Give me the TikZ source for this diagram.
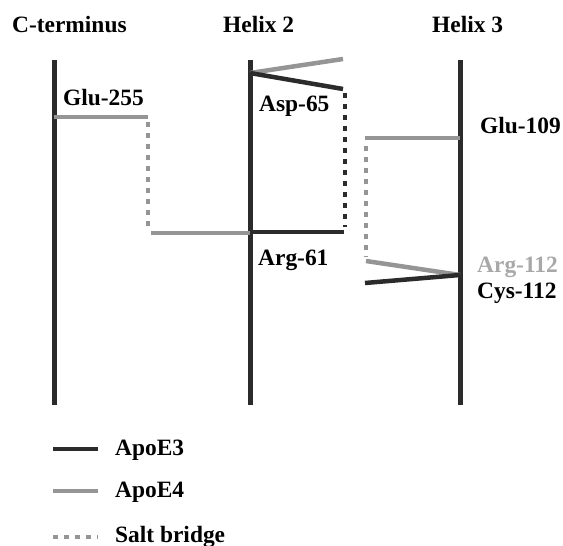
\documentclass[tikz,border=0pt]{standalone}
\usepackage{fontspec}
\setmainfont{Liberation Serif}
\definecolor{eThree}{HTML}{2B2B2B}
\definecolor{eFour}{HTML}{959595}
\definecolor{argGray}{HTML}{A8A8A8}

\begin{document}
\begin{tikzpicture}[x=1bp, y=-1bp,
	lbl/.style = {anchor=base west, inner sep=0pt, font=\bfseries\fontsize{23.5}{26}\selectfont},
	helix/.style = {draw=eThree, line width=5bp},
	apoEthree/.style = {draw=eThree, line width=4.5bp},
	apoEfour/.style = {draw=eFour, line width=4.5bp},
	bridge/.style = {line width=4.5bp, dash pattern=on 5bp off 6bp}]
		\useasboundingbox (0,0) rectangle (563,546);
		% titles
		\node[lbl] (ct) at (12,33) {C-terminus};
		\node[lbl] (h2) at (223,33) {Helix 2};
		\node[lbl] (h3) at (432,33) {Helix 3};
		% the three helices
		\coordinate (ct top) at (54,60);
		\coordinate (ct bot) at (54,405);
		\coordinate (h2 top) at (250,60);
		\coordinate (h2 bot) at (250,405);
		\coordinate (h3 top) at (460,60);
		\coordinate (h3 bot) at (460,405);
		\draw[helix] (ct top) -- (ct bot);
		\draw[helix] (h2 top) -- (h2 bot);
		\draw[helix] (h3 top) -- (h3 bot);
		% residues
		\node[lbl] (glu255) at (63,106) {Glu-255};
		\node[lbl] (asp65) at (259,112) {Asp-65};
		\node[lbl] (arg61) at (258,265) {Arg-61};
		\node[lbl] (glu109) at (480,134) {Glu-109};
		\node[lbl, text=argGray] (arg112) at (477,272) {Arg-112};
		\node[lbl] (cys112) at (477,298) {Cys-112};
		% side chains
		\coordinate (g255a) at (54,117);
		\coordinate (g255b) at (148,117);
		\coordinate (g255c) at (148,122);
		\coordinate (g255d) at (148,229);
		\coordinate (r61e4a) at (151,233);
		\coordinate (r61e4b) at (250,233);
		\coordinate (d65a) at (250,73);
		\coordinate (d65e4) at (343,59);
		\coordinate (d65e3) at (343,89);
		\coordinate (d65b) at (345,93);
		\coordinate (d65c) at (345,227);
		\coordinate (r61a) at (250,232);
		\coordinate (r61b) at (344,232);
		\coordinate (e109a) at (365,138);
		\coordinate (e109b) at (460,138);
		\coordinate (e109c) at (366,146);
		\coordinate (e109d) at (366,257);
		\coordinate (r112a) at (366,261);
		\coordinate (c112a) at (365,283);
		\coordinate (x112) at (460,275);
		\draw[apoEfour] (g255a) -- (g255b);
		\draw[bridge, eFour] (g255c) -- (g255d);
		\draw[apoEfour] (r61e4a) -- (r61e4b);
		\draw[apoEfour] (d65a) -- (d65e4);
		\draw[apoEthree] (d65a) -- (d65e3);
		\draw[bridge, eThree, line width=4bp] (d65b) -- (d65c);
		\draw[apoEthree] (r61a) -- (r61b);
		\draw[apoEfour] (e109a) -- (e109b);
		\draw[bridge, eFour] (e109c) -- (e109d);
		\draw[apoEfour] (r112a) -- (x112);
		\draw[apoEthree] (c112a) -- (x112);
		% legend
		\coordinate (k1a) at (53,449);
		\coordinate (k1b) at (98,449);
		\coordinate (k2a) at (53,491);
		\coordinate (k2b) at (98,491);
		\coordinate (k3a) at (53,537);
		\coordinate (k3b) at (98,537);
		\draw[apoEthree] (k1a) -- (k1b);
		\draw[apoEfour] (k2a) -- (k2b);
		\draw[bridge, eFour] (k3a) -- (k3b);
		\node[lbl] (e3) at (115,455) {ApoE3};
		\node[lbl] (e4) at (115,497) {ApoE4};
		\node[lbl] (sb) at (115,542) {Salt bridge};
	\end{tikzpicture}
\end{document}
